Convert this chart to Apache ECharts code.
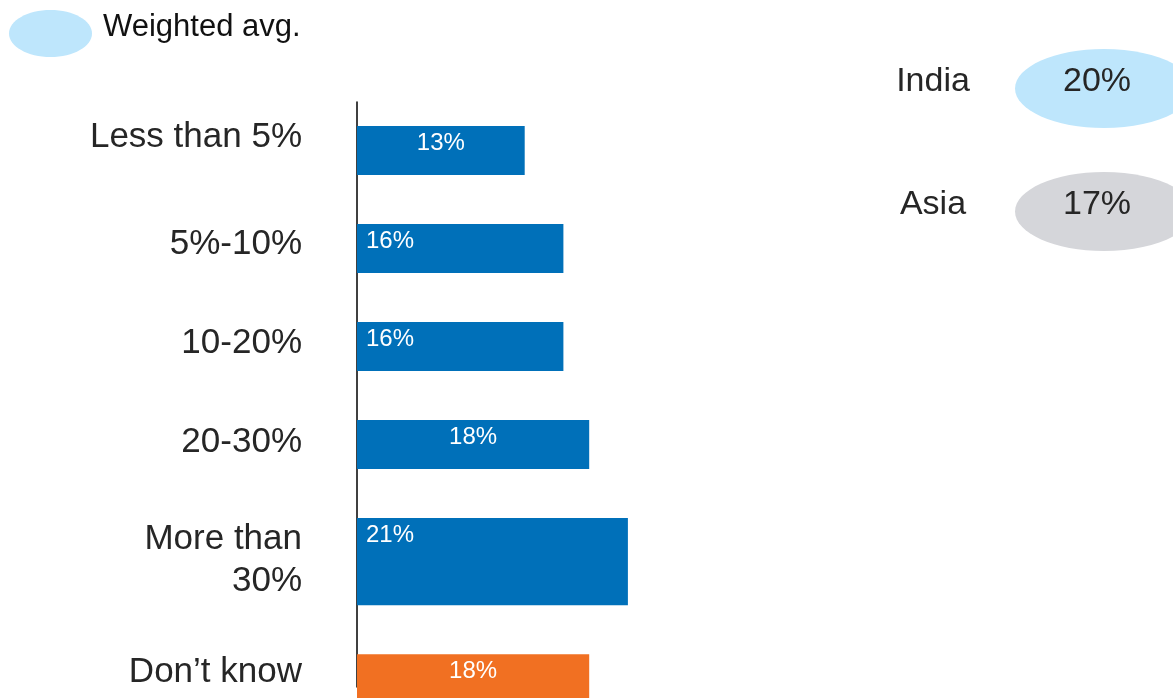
<!DOCTYPE html>
<html>
<head>
<meta charset="utf-8">
<script src="https://cdn.jsdelivr.net/npm/echarts@6/dist/echarts.min.js"></script>
<style>
html,body{margin:0;padding:0;background:#fff;}
#chart{width:1173px;height:698px;}
</style>
</head>
<body>
<div id="chart"></div>
<script>
// ---- data ----
var categories = ['Less than 5%', '5%-10%', '10-20%', '20-30%', 'More than\n30%', 'Don\u2019t know'];
var values = [13, 16, 16, 18, 21, 18];
var legendLabel = 'Weighted avg.';
var avgRegions = ['India', 'Asia'];
var avgValues = [20, 17];

// ---- styles ----
var FONT = "'Liberation Sans', Arial, sans-serif";
var BLUE = '#0070B9';
var ORANGE = '#F17022';
var LIGHTBLUE = '#BEE6FC';
var GREY = '#D5D6DA';
var TEXT = '#262626';
var valueLabelAlign = ['center', 'left', 'left', 'center', 'left', 'center'];
var catLabelDy = [-13, -4, -3, -2, -1, -6];
var regionColors = [LIGHTBLUE, GREY];

// layout in row units (1 unit = one single-line bar thickness)
var firstOffset = 0.49, gapUnits = 1, extraLineUnits = 0.78;
var rows = [];
var cursor = firstOffset;
categories.forEach(function (c, i) {
  var lines = c.split('\n').length;
  var h = 1 + (lines - 1) * extraLineUnits;
  rows.push([values[i], cursor, h, i]);
  cursor += h + gapUnits;
});

var chart = echarts.init(document.getElementById('chart'));

var graphics = [
  { type: 'ellipse', shape: { cx: 50.5, cy: 33.5, rx: 41.5, ry: 23.5 }, style: { fill: LIGHTBLUE } },
  { type: 'text', style: { text: legendLabel, x: 103, y: 27, font: '31px ' + FONT, fill: '#111', verticalAlign: 'middle', align: 'left' } }
];
avgRegions.forEach(function (r, i) {
  var cy = 88.5 + i * 123;
  graphics.push({ type: 'ellipse', shape: { cx: 1104, cy: cy, rx: 89, ry: 39.5 }, style: { fill: regionColors[i] } });
  graphics.push({ type: 'text', style: { text: r, x: 933, y: cy - 7, font: '34px ' + FONT, fill: TEXT, align: 'center', verticalAlign: 'middle' } });
  graphics.push({ type: 'text', style: { text: avgValues[i] + '%', x: 1097, y: cy - 7, font: '34px ' + FONT, fill: TEXT, align: 'center', verticalAlign: 'middle' } });
});

chart.setOption({
  animation: false,
  grid: { left: 357, right: 171, top: 102, bottom: 11 },
  xAxis: { type: 'value', min: 0, max: 50, show: false },
  yAxis: {
    type: 'value', inverse: true, min: 0, max: 585 / 49,
    axisLine: { show: true, lineStyle: { color: '#000', width: 1.5 } },
    axisTick: { show: false }, axisLabel: { show: false }, splitLine: { show: false }
  },
  graphic: graphics,
  series: [{
    type: 'custom',
    clip: false,
    data: rows,
    encode: { x: 0, y: 1 },
    renderItem: function (params, api) {
      var v = api.value(0), top = api.value(1), h = api.value(2), idx = api.value(3);
      var p0 = api.coord([0, top]);
      var p1 = api.coord([v, top + h]);
      var color = categories[idx] === 'Don\u2019t know' ? ORANGE : BLUE;
      var cx = (p0[0] + p1[0]) / 2, cy = (p0[1] + p1[1]) / 2;
      var align = valueLabelAlign[idx];
      return {
        type: 'group',
        children: [
          { type: 'rect', shape: { x: p0[0], y: p0[1], width: p1[0] - p0[0], height: p1[1] - p0[1] }, style: { fill: color } },
          { type: 'text', style: { text: v + '%', x: align === 'center' ? cx : p0[0] + 9, y: p0[1] + 17, align: align, verticalAlign: 'middle', font: '24px ' + FONT, fill: '#ffffff' } },
          { type: 'text', style: { text: categories[idx], x: 302, y: cy + catLabelDy[idx], align: 'right', verticalAlign: 'middle', font: '35px ' + FONT, lineHeight: 42, fill: TEXT } }
        ]
      };
    }
  }]
});
</script>
</body>
</html>
